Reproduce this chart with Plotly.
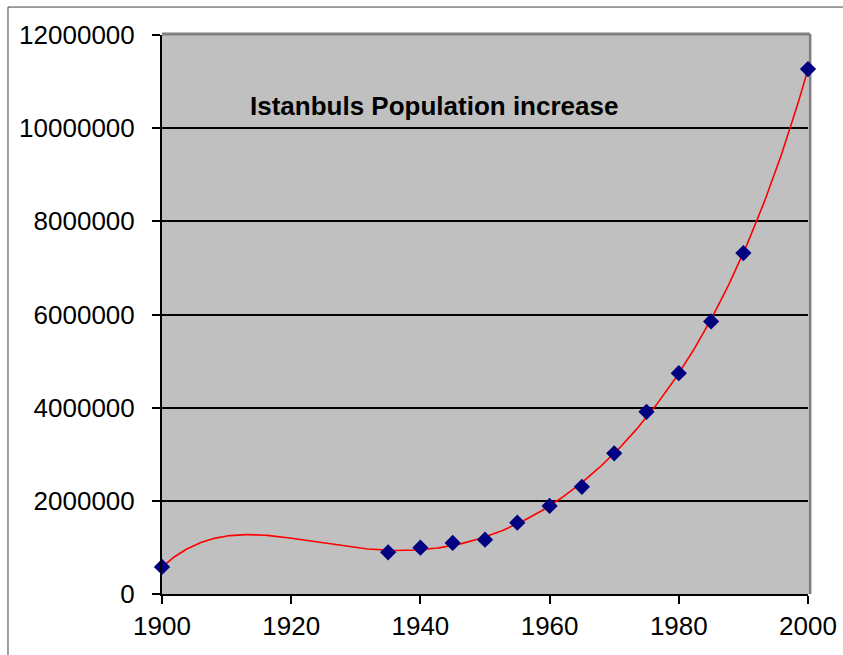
import numpy as np
import plotly.graph_objects as go

# Istanbul population by census year
years = [1900, 1935, 1940, 1945, 1950, 1955, 1960, 1965, 1970, 1975, 1980, 1985, 1990, 2000]
population = [580000, 895000, 995000, 1095000, 1166000, 1530000, 1890000, 2300000,
              3020000, 3910000, 4740000, 5850000, 7320000, 11270000]

x_ticks = [1900, 1920, 1940, 1960, 1980, 2000]
y_ticks = [0, 2000000, 4000000, 6000000, 8000000, 10000000, 12000000]

# 5th-order polynomial trendline fitted to the data
trend_order = 5
xs = np.linspace(1900, 2000, 400)
xa = (np.array(years, dtype=float) - 1950) / 50
trend = np.polyval(np.polyfit(xa, population, trend_order), (xs - 1950) / 50)

fig = go.Figure()
fig.add_trace(go.Scatter(x=xs, y=trend, mode="lines", line=dict(color="#ff0000", width=1.6),
                         hoverinfo="skip"))
fig.add_trace(go.Scatter(x=years, y=population, mode="markers", cliponaxis=False,
                         marker=dict(symbol="diamond", size=12.5, color="#000080",
                                     line=dict(width=0))))

font = "Liberation Sans, Arial, sans-serif"
fig.update_layout(
    width=843, height=655,
    margin=dict(l=162, r=35, t=35, b=61),
    paper_bgcolor="white", plot_bgcolor="#c0c0c0",
    showlegend=False,
    font=dict(family=font, size=26, color="black"),
    xaxis=dict(range=[1900, 2000], tickvals=x_ticks, showgrid=False, zeroline=False,
               showline=True, linecolor="black", linewidth=2, automargin=False,
               ticks="outside", ticklen=8, tickwidth=1.5, tickcolor="black",
               ticklabelstandoff=0),
    yaxis=dict(range=[0, 12000000], tickvals=y_ticks, tickformat="d", automargin=False,
               showgrid=True, gridcolor="black", gridwidth=1.5, zeroline=False,
               showline=True, linecolor="black", linewidth=2,
               ticks="outside", ticklen=8, tickwidth=1.5, tickcolor="black",
               ticklabelstandoff=12),
    shapes=[
        # plot area border (top and right)
        dict(type="line", xref="paper", yref="paper", x0=0, x1=1.003, y0=1.002, y1=1.002,
             line=dict(color="#808080", width=3), layer="below"),
        dict(type="line", xref="paper", yref="paper", x0=1.003, x1=1.003, y0=0, y1=1.002,
             line=dict(color="#808080", width=3), layer="below"),
        # chart frame
        dict(type="line", xref="paper", yref="paper", x0=-0.2384, x1=1.1, y0=1.05, y1=1.05,
             line=dict(color="#404040", width=1)),
        dict(type="line", xref="paper", yref="paper", x0=-0.2384, x1=-0.2384, y0=-0.2, y1=1.05,
             line=dict(color="#404040", width=1)),
    ],
    annotations=[
        dict(text="<b>Istanbuls Population increase</b>", xref="paper", yref="paper",
             x=(433.5 - 162) / 646, y=(594 - 106) / 559, xanchor="center", yanchor="middle",
             showarrow=False, font=dict(family=font, size=26, color="black")),
    ],
)

fig.write_html("out.html")
